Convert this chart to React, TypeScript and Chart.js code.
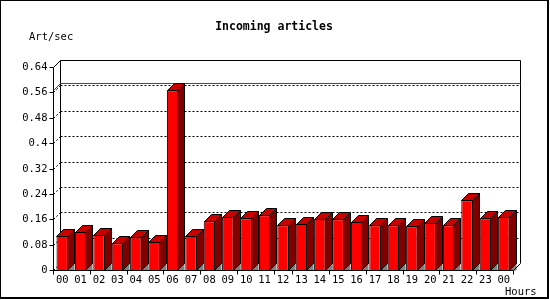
import React, { useEffect, useRef } from "react";
import { Chart, registerables } from "chart.js";

Chart.register(...registerables);

const hours = ["00","01","02","03","04","05","06","07","08","09","10","11","12","13","14","15","16","17","18","19","20","21","22","23","00"];
const artPerSec = [0.107,0.120,0.110,0.084,0.103,0.088,0.567,0.107,0.154,0.167,0.163,0.173,0.141,0.145,0.161,0.160,0.151,0.141,0.141,0.138,0.148,0.141,0.220,0.163,0.167];
const yTicks = [0,0.08,0.16,0.24,0.32,0.4,0.48,0.56,0.64];
const yTickLabels = ["0","0.08","0.16","0.24","0.32","0.4","0.48","0.56","0.64"];
const xTickBoundaries = [0,2,4,6,8,10,12,13,15,17,19,21,23,25];
const titleText = "Incoming articles";
const yTitle = "Art/sec";
const xTitle = "Hours";

const D = 7; // 3D depth
const FONT = '"DejaVu Sans Mono", "Liberation Mono", monospace';

const threeD = {
  id: "threeD",
  beforeDraw(chart: any) {
    const ctx = chart.ctx;
    ctx.save();
    ctx.fillStyle = "#ffffff";
    ctx.fillRect(0, 0, chart.width, chart.height);
    ctx.restore();
  },
  beforeDatasetsDraw(chart: any) {
    const ctx = chart.ctx;
    const a = chart.chartArea;
    const y = chart.scales.y;
    const L = Math.round(a.left) + 0.5;
    const R = Math.round(a.right) + 0.5;
    const B = Math.round(a.bottom) + 0.5;
    const T = Math.round(a.top) + 0.5;
    ctx.save();
    ctx.lineWidth = 1;
    ctx.strokeStyle = "#000";
    // dashed grid on back wall and left wall
    ctx.setLineDash([2, 2]);
    yTicks.forEach((v) => {
      const py = Math.round(y.getPixelForValue(v)) + 0.5;
      if (v > 0 && v < yTicks[yTicks.length - 1]) {
        ctx.beginPath();
        ctx.moveTo(L + D, py - D);
        ctx.lineTo(R + D, py - D);
        ctx.stroke();
      }
      if (v < yTicks[yTicks.length - 1]) {
        ctx.beginPath();
        ctx.moveTo(L, py);
        ctx.lineTo(L + D, py - D);
        ctx.stroke();
      }
    });
    ctx.setLineDash([]);
    // back wall frame
    ctx.beginPath();
    ctx.moveTo(L + D, B - D);
    ctx.lineTo(L + D, T - D);
    ctx.lineTo(R + D, T - D);
    ctx.lineTo(R + D, B - D);
    ctx.stroke();
    ctx.beginPath();
    ctx.moveTo(L, T);
    ctx.lineTo(L + D, T - D);
    ctx.stroke();
    // max line in red
    const maxV = Math.max(...artPerSec);
    const my = Math.round(y.getPixelForValue(maxV)) + 0.5;
    ctx.strokeStyle = "#ff0000";
    ctx.beginPath();
    ctx.moveTo(L, my);
    ctx.lineTo(L + D, my - D);
    ctx.lineTo(R + D, my - D);
    ctx.stroke();
    ctx.restore();
  },
  afterDatasetsDraw(chart: any) {
    const ctx = chart.ctx;
    const a = chart.chartArea;
    const y = chart.scales.y;
    const x = chart.scales.x;
    const meta = chart.getDatasetMeta(0);
    ctx.save();
    ctx.lineWidth = 1;
    ctx.strokeStyle = "#000";
    meta.data.forEach((el: any) => {
      const w = el.width;
      const l = Math.round(el.x - w / 2) + 0.5;
      const r = Math.round(el.x + w / 2) - 0.5;
      const t = Math.round(el.y) + 0.5;
      const b = Math.round(el.base) + 0.5;
      // gray floor shadow
      ctx.fillStyle = "#808080";
      ctx.beginPath();
      ctx.moveTo(r, b);
      ctx.lineTo(r + D, b - D);
      ctx.lineTo(r + D, b);
      ctx.closePath();
      ctx.fill();
      // top face
      ctx.fillStyle = "#c80000";
      ctx.beginPath();
      ctx.moveTo(l, t);
      ctx.lineTo(l + D, t - D);
      ctx.lineTo(r + D, t - D);
      ctx.lineTo(r, t);
      ctx.closePath();
      ctx.fill();
      ctx.stroke();
      // side face
      ctx.fillStyle = "#800000";
      ctx.beginPath();
      ctx.moveTo(r, t);
      ctx.lineTo(r + D, t - D);
      ctx.lineTo(r + D, b - D);
      ctx.lineTo(r, b);
      ctx.closePath();
      ctx.fill();
      ctx.stroke();
    });
    const L = Math.round(a.left) + 0.5;
    const R = Math.round(a.right) + 0.5;
    const B = Math.round(a.bottom) + 0.5;
    const T = Math.round(a.top) + 0.5;
    // front axes
    ctx.beginPath();
    ctx.moveTo(L, T);
    ctx.lineTo(L, B);
    ctx.lineTo(R, B);
    ctx.lineTo(R + D, B - D);
    ctx.stroke();
    // y ticks + labels
    ctx.fillStyle = "#000";
    ctx.font = `10.5px ${FONT}`;
    ctx.textAlign = "right";
    ctx.textBaseline = "middle";
    yTicks.forEach((v, i) => {
      const py = Math.round(y.getPixelForValue(v)) + 0.5;
      ctx.beginPath();
      ctx.moveTo(L - 4, py);
      ctx.lineTo(L, py);
      ctx.stroke();
      ctx.fillText(yTickLabels[i], L - 6, py);
    });
    // x ticks
    const cw = (a.right - a.left) / hours.length;
    xTickBoundaries.forEach((k) => {
      const px = Math.round(a.left + k * cw) + 0.5;
      ctx.beginPath();
      ctx.moveTo(px, B);
      ctx.lineTo(px, B + 4);
      ctx.stroke();
    });
    // x labels
    ctx.textAlign = "center";
    hours.forEach((h, i) => {
      ctx.fillText(h, x.getPixelForValue(i), B + 10);
    });
    // axis titles
    ctx.textAlign = "left";
    ctx.textBaseline = "alphabetic";
    ctx.fillText(yTitle, 29, 40);
    ctx.fillText(xTitle, 505, 295);
    // title
    ctx.font = `bold 11.5px ${FONT}`;
    ctx.textAlign = "center";
    ctx.fillText(titleText, 274, 30);
    // outer frame
    ctx.fillRect(0, 0, 549, 1);
    ctx.fillRect(0, 0, 1, 299);
    ctx.fillRect(547, 0, 2, 299);
    ctx.fillRect(0, 297, 549, 2);
    ctx.restore();
  },
};

export default function App() {
  const ref = useRef<HTMLCanvasElement>(null);
  useEffect(() => {
    document.body.style.margin = "0";
    const chart = new Chart(ref.current as HTMLCanvasElement, {
      type: "bar",
      data: {
        labels: hours,
        datasets: [
          {
            data: artPerSec,
            backgroundColor: "#ff0000",
            borderColor: "#000000",
            borderWidth: 1,
            barPercentage: 0.62,
            categoryPercentage: 1,
          },
        ],
      },
      options: {
        responsive: false,
        animation: false,
        layout: { padding: { left: 53, top: 67, right: 37, bottom: 30 } },
        plugins: { legend: { display: false }, tooltip: { enabled: false } },
        scales: {
          x: { display: false, offset: true },
          y: { display: false, min: 0, max: 0.64 },
        },
      },
      plugins: [threeD],
    });
    return () => chart.destroy();
  }, []);
  return (
    <div style={{ width: 550, height: 300 }}>
      <canvas ref={ref} width={550} height={300} style={{ display: "block" }} />
    </div>
  );
}
